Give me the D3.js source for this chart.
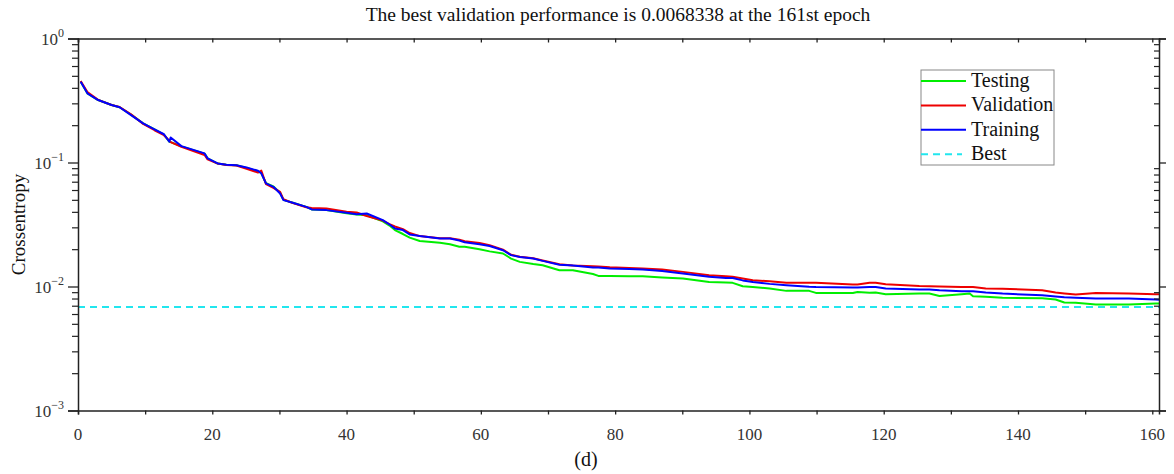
<!DOCTYPE html>
<html><head><meta charset="utf-8">
<script src="https://cdn.jsdelivr.net/npm/d3@7"></script>
<style>body{margin:0;background:#fff}svg{display:block}</style>
</head><body>
<svg id="c" width="1174" height="474"></svg>
<script>
const epochs   = [0.4,1.4,3.0,5.0,6.2,7.9,9.7,11.4,12.8,13.6,13.8,15.4,18.85,19.3,20.8,22.1,23.6,25.1,26.8,27.3,28.0,29.1,30.1,30.6,32.0,34.0,34.8,37.0,40.0,41.5,43.0,45.4,46.4,47.2,48.4,49.4,50.9,53.9,55.4,56.8,57.6,59.8,61.3,63.3,64.5,65.8,67.8,69.2,71.7,73.7,76.7,77.5,79.2,82.1,84.1,87.0,90.1,94.0,96.5,97.5,99.0,100.5,103.0,105.5,108.9,109.9,115.4,116.1,117.9,118.8,120.3,125.3,126.8,128.3,131.6,132.8,133.3,135.2,137.7,143.6,145.6,146.9,148.6,151.6,156.5,160.5,161];
const training = [0.448,0.361,0.319,0.291,0.279,0.241,0.207,0.185,0.169,0.147,0.159,0.1356,0.1184,0.108,0.0983,0.0958,0.0951,0.0913,0.0857,0.0818,0.0678,0.0637,0.0563,0.0497,0.0473,0.0439,0.0418,0.0413,0.0393,0.0383,0.0388,0.0343,0.0316,0.0294,0.0285,0.0263,0.0255,0.0244,0.0244,0.0235,0.0227,0.0219,0.0212,0.0196,0.0179,0.0173,0.0168,0.0161,0.0150,0.01475,0.01423,0.0142,0.01397,0.01385,0.0137,0.01336,0.01273,0.01196,0.01173,0.0117,0.0112,0.01089,0.0105,0.01024,0.00995,0.0099,0.00982,0.0098,0.00993,0.0099,0.00964,0.00946,0.00946,0.00933,0.00916,0.00916,0.00914,0.00895,0.00877,0.0085,0.0083,0.0082,0.00812,0.0080,0.0080,0.00785,0.0078];
const validation = [0.455,0.37,0.32,0.291,0.28,0.245,0.205,0.182,0.166,0.15,0.146,0.134,0.115,0.106,0.098,0.0955,0.0945,0.089,0.083,0.086,0.067,0.0625,0.058,0.0505,0.047,0.0435,0.043,0.0425,0.040,0.0395,0.037,0.034,0.0318,0.0305,0.029,0.027,0.0255,0.0245,0.0245,0.0238,0.0232,0.0224,0.0215,0.0198,0.0180,0.0174,0.0169,0.0162,0.0151,0.0148,0.01458,0.0145,0.0143,0.01413,0.0140,0.01372,0.01312,0.01234,0.0121,0.0120,0.0116,0.01124,0.0110,0.0107,0.0107,0.0107,0.01038,0.0104,0.0107,0.0107,0.01044,0.01011,0.01006,0.0100,0.00993,0.00993,0.0099,0.00964,0.0096,0.00933,0.00895,0.0088,0.00862,0.00885,0.00877,0.00867,0.00865];
const testing = [0.448,0.361,0.319,0.291,0.279,0.243,0.207,0.185,0.168,0.147,0.146,0.135,0.118,0.108,0.098,0.0958,0.0951,0.0905,0.085,0.082,0.068,0.064,0.057,0.050,0.0473,0.0439,0.0418,0.0413,0.039,0.038,0.0375,0.0335,0.031,0.0285,0.0265,0.0248,0.0233,0.0225,0.0219,0.0209,0.0209,0.0200,0.0192,0.01846,0.0168,0.0158,0.0152,0.01486,0.01353,0.01353,0.0126,0.01218,0.01215,0.01212,0.0121,0.01183,0.0116,0.01089,0.01077,0.0107,0.01006,0.0099,0.00964,0.00922,0.00922,0.00888,0.00888,0.00904,0.0089,0.00893,0.00867,0.00877,0.00877,0.00839,0.00867,0.00877,0.00835,0.00825,0.0081,0.00803,0.00785,0.00743,0.0074,0.00716,0.00716,0.0073,0.0073];
const bestValue = 0.0068338;
const xTicks = [0,20,40,60,80,100,120,140,160];
const yExponents = [0,-1,-2,-3];
const legendLabels = ["Testing","Validation","Training","Best"];
const titleText = "The best validation performance is 0.0068338 at the 161st epoch";

const svg = d3.select("#c");
const L=78, R=1159, T=38.5, B=410.5;
const x = d3.scaleLinear().domain([0,161]).range([L,R]);
const y = d3.scaleLog().domain([1e-3,1]).range([B,T]);
const serif = "'Liberation Serif','Times New Roman',serif";

// title
svg.append("text").attr("x",618).attr("y",21).attr("text-anchor","middle")
  .attr("font-family",serif).attr("font-size",19.5).attr("fill","#111").text(titleText);

// clip
svg.append("clipPath").attr("id","clip").append("rect").attr("x",L).attr("y",T).attr("width",R-L).attr("height",B-T);
const plot = svg.append("g").attr("clip-path","url(#clip)");

// best line
plot.append("line").attr("x1",L).attr("x2",R).attr("y1",y(bestValue)).attr("y2",y(bestValue))
  .attr("stroke","#22e6ee").attr("stroke-width",2).attr("stroke-dasharray","7,5");

const line = (vals)=>d3.line().x((d,i)=>x(epochs[i])).y(d=>y(d))(vals);
const series = [[testing,"#00ee00"],[validation,"#ee0000"],[training,"#0000ff"]];
series.forEach(([v,c])=>{
  plot.append("path").attr("d",line(v)).attr("fill","none").attr("stroke",c).attr("stroke-width",2).attr("stroke-linejoin","round");
});

// axes
const minorX = d3.range(0,161,10);
const axisColor="#222";
// bottom
const gb = svg.append("g").attr("transform",`translate(0,${B})`)
  .call(d3.axisBottom(x).tickValues(minorX).tickSize(4).tickFormat(""));
gb.select(".domain").attr("stroke",axisColor).attr("stroke-width",1.5);
gb.selectAll(".tick line").attr("stroke",axisColor).attr("stroke-width",1.3);
svg.append("g").selectAll("text").data(xTicks).join("text")
  .attr("x",d=>x(d)).attr("y",B+29).attr("text-anchor","middle")
  .attr("font-family",serif).attr("font-size",17).attr("fill","#333").text(d=>d);
// top
const gt = svg.append("g").attr("transform",`translate(0,${T})`)
  .call(d3.axisBottom(x).tickValues(minorX).tickSize(4).tickFormat(""));
gt.select(".domain").attr("stroke",axisColor).attr("stroke-width",1.5);
gt.selectAll(".tick line").attr("stroke",axisColor).attr("stroke-width",1.3);

// y minor ticks
const minorY=[];
for(let e=-3;e<0;e++) for(let k=2;k<=9;k++) minorY.push(k*Math.pow(10,e));
const majorY = yExponents.map(e=>Math.pow(10,e));
const gl = svg.append("g").attr("transform",`translate(${L},0)`)
  .call(d3.axisLeft(y).tickValues(majorY).tickSize(10).tickFormat(""));
gl.select(".domain").attr("stroke",axisColor).attr("stroke-width",1.5);
gl.selectAll(".tick line").attr("stroke",axisColor).attr("stroke-width",1.3);
svg.append("g").attr("transform",`translate(${L},0)`)
  .call(d3.axisLeft(y).tickValues(minorY).tickSize(6).tickFormat(""))
  .call(g=>{g.select(".domain").remove();g.selectAll(".tick line").attr("stroke",axisColor).attr("stroke-width",1.2);});
// right
const gr = svg.append("g").attr("transform",`translate(${R},0)`)
  .call(d3.axisLeft(y).tickValues(majorY).tickSize(-7).tickFormat(""));
gr.select(".domain").attr("stroke",axisColor).attr("stroke-width",1.5);
gr.selectAll(".tick line").attr("stroke",axisColor).attr("stroke-width",1.3);
svg.append("g").attr("transform",`translate(${R},0)`)
  .call(d3.axisRight(y).tickValues(minorY).tickSize(-5).tickFormat(""))
  .call(g=>{g.select(".domain").remove();g.selectAll(".tick line").attr("stroke",axisColor).attr("stroke-width",1.2);});

// y labels 10^e
const yl = svg.append("g").selectAll("text").data(yExponents).join("text")
  .attr("x",L-14).attr("y",d=>y(Math.pow(10,d))+6).attr("text-anchor","end")
  .attr("font-family",serif).attr("font-size",17).attr("fill","#333");
yl.append("tspan").text("10");
yl.append("tspan").attr("dy",-8).attr("font-size",12).text(d=>d===0?"0":"\u2212"+(-d));

// y axis title
svg.append("text").attr("transform",`translate(25,${(T+B)/2}) rotate(-90)`).attr("text-anchor","middle")
  .attr("font-family",serif).attr("font-size",19).attr("fill","#111").text("Crossentropy");
// caption
svg.append("text").attr("x",586).attr("y",466).attr("text-anchor","middle")
  .attr("font-family",serif).attr("font-size",20).attr("fill","#111").text("(d)");

// legend
const lg = svg.append("g");
lg.append("rect").attr("x",921).attr("y",70).attr("width",133).attr("height",95)
  .attr("fill","#fff").attr("stroke","#888").attr("stroke-width",1);
const lcol = ["#00ee00","#ee0000","#0000ff","#22e6ee"];
legendLabels.forEach((t,i)=>{
  const yy = 81+i*24.4;
  lg.append("line").attr("x1",921).attr("x2",i===3?962:966).attr("y1",yy).attr("y2",yy)
    .attr("stroke",lcol[i]).attr("stroke-width",2).attr("stroke-dasharray",i===3?"7,5":null);
  lg.append("text").attr("x",971).attr("y",yy+6).attr("font-family",serif).attr("font-size",20).attr("fill","#111").text(t);
});
</script>
</body></html>
